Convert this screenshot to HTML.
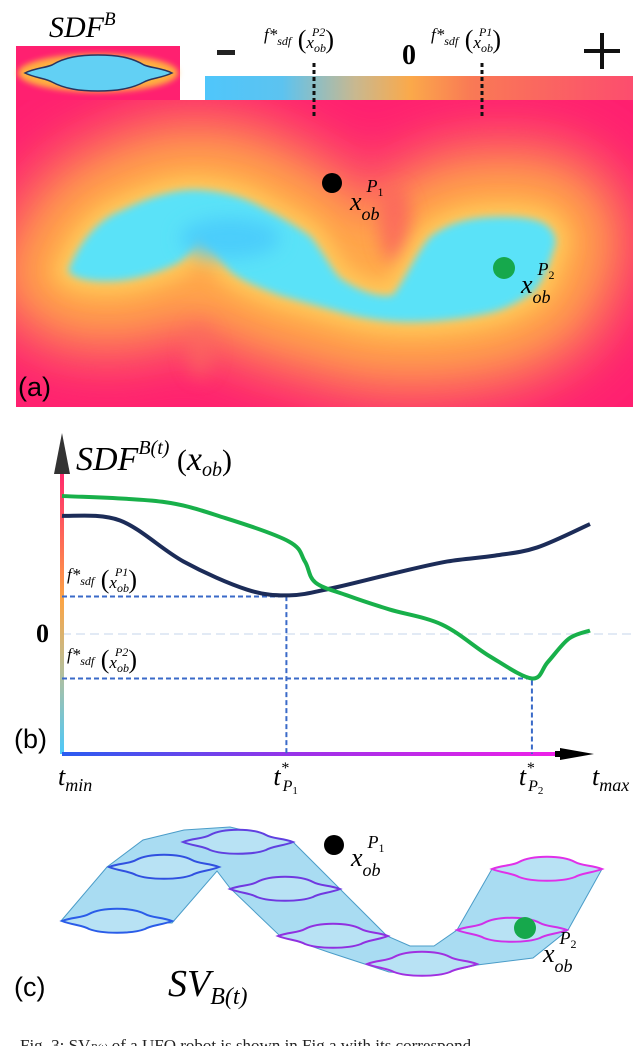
<!DOCTYPE html>
<html><head><meta charset="utf-8"><style>
body{margin:0;background:#fff;width:640px;height:1046px;overflow:hidden}
svg{display:block}
.m{font-family:"Liberation Serif",serif;font-style:italic}
</style></head><body>
<svg width="640" height="1046" viewBox="0 0 640 1046">
<defs>
<filter id="b30" filterUnits="userSpaceOnUse" x="-200" y="-200" width="1100" height="900"><feGaussianBlur stdDeviation="24"/></filter>
<filter id="b12" filterUnits="userSpaceOnUse" x="-200" y="-200" width="1100" height="900"><feGaussianBlur stdDeviation="9"/></filter>
<filter id="b5" filterUnits="userSpaceOnUse" x="-200" y="-200" width="1100" height="900"><feGaussianBlur stdDeviation="4"/></filter>
<filter id="b3" filterUnits="userSpaceOnUse" x="-200" y="-200" width="1100" height="900"><feGaussianBlur stdDeviation="3"/></filter>
<linearGradient id="cb" x1="0" x2="1"><stop offset="0" stop-color="#4fc6fb"/><stop offset="0.18" stop-color="#5cc3f0"/><stop offset="0.35" stop-color="#c8b890"/><stop offset="0.48" stop-color="#fba94a"/><stop offset="0.62" stop-color="#f97a55"/><stop offset="1" stop-color="#fc4d6e"/></linearGradient>
<linearGradient id="ya" x1="0" y1="1" x2="0" y2="0"><stop offset="0" stop-color="#4cc8fa"/><stop offset="0.3" stop-color="#b8bf98"/><stop offset="0.55" stop-color="#fca444"/><stop offset="1" stop-color="#ff2a6c"/></linearGradient>
<linearGradient id="xa" x1="0" x2="1"><stop offset="0" stop-color="#2a5cf0"/><stop offset="0.5" stop-color="#a030e8"/><stop offset="1" stop-color="#f020e8"/></linearGradient>
<clipPath id="clipA"><rect x="16" y="100" width="617" height="307"/></clipPath>
<path id="cyShape" d="M68,271 C80,240 100,218 123,210 C150,196 180,188 201,190 C230,192 250,200 266,210 C290,222 305,232 311,237 C325,255 332,270 340,278 C360,292 380,298 393,295 C405,280 415,255 430,237 C450,222 470,218 492,217 C515,216 535,218 545,224 C556,232 558,242 553,251 C548,270 540,285 533,292 C515,305 498,312 480,315 C455,320 430,322 410,322 C385,322 360,318 340,312 C315,305 295,300 279,295 C260,288 240,280 230,271 C220,260 210,245 201,237 C195,245 188,258 176,264 C160,272 135,280 115,281 C95,282 75,280 68,271 Z"/>
</defs>

<!-- Panel a -->
<g>
<rect x="16" y="46" width="164" height="54" fill="#ff2070"/>
<g filter="url(#b3)"><ellipse cx="98" cy="73" rx="80" ry="19" fill="#ffb040"/></g>
<path d="M25,73 C35,68 45,68 52,65 C65,57 80,55 98,55 C116,55 131,57 144,65 C151,68 162,68 172,73 C162,78 151,78 144,82 C131,89 116,91 98,91 C80,91 65,89 52,82 C45,78 35,78 25,73 Z" fill="#62d0f4" stroke="#2a3460" stroke-width="1.5"/>
<rect x="205" y="76" width="428" height="24" fill="url(#cb)"/>
<rect x="16" y="100" width="617" height="307" fill="#ff2070"/>
<g clip-path="url(#clipA)">
<use href="#cyShape" fill="#fb5a62" stroke="#fb5a62" stroke-width="190" filter="url(#b30)" opacity="0.75"/>
<use href="#cyShape" fill="#ffa848" stroke="#ffa848" stroke-width="115" filter="url(#b30)"/>
<ellipse cx="395" cy="225" rx="16" ry="38" fill="#fa5a62" filter="url(#b12)" opacity="0.7"/>
<ellipse cx="200" cy="350" rx="14" ry="28" fill="#fa6a5e" filter="url(#b12)" opacity="0.6"/>
<use href="#cyShape" fill="#ffc858" stroke="#ffc858" stroke-width="26" filter="url(#b12)"/>
<use href="#cyShape" fill="#5ae2f8" filter="url(#b5)"/>
<ellipse cx="230" cy="238" rx="50" ry="20" fill="#4ccdfb" filter="url(#b12)"/>
</g>
<line x1="314" y1="63" x2="314" y2="117" stroke="#111" stroke-width="3" stroke-dasharray="4,3"/>
<line x1="482" y1="63" x2="482" y2="117" stroke="#111" stroke-width="3" stroke-dasharray="4,3"/>
<circle cx="332" cy="183" r="10" fill="#000"/>
<circle cx="504" cy="268" r="11" fill="#16a84c"/>
<text x="350" y="210" class="m" font-size="26">x<tspan font-size="18" dy="10">ob</tspan><tspan font-size="18" dx="-13" dy="-28">P</tspan><tspan font-size="12" dy="4" font-style="normal">1</tspan></text>
<text x="521" y="293" class="m" font-size="26">x<tspan font-size="18" dy="10">ob</tspan><tspan font-size="18" dx="-13" dy="-28">P</tspan><tspan font-size="12" dy="4" font-style="normal">2</tspan></text>
<text x="49" y="37" class="m" font-size="30">SDF<tspan font-size="19" dy="-12">B</tspan></text>
<text x="264" y="40" class="m" font-size="17">f*<tspan font-size="12" dy="5">sdf</tspan><tspan font-size="26" dy="3" font-style="normal"> (</tspan>x<tspan font-size="12" dy="4">ob</tspan><tspan font-size="12" dx="-14" dy="-16">P2</tspan><tspan font-size="26" dy="12" font-style="normal">)</tspan></text>
<text x="431" y="40" class="m" font-size="17">f*<tspan font-size="12" dy="5">sdf</tspan><tspan font-size="26" dy="3" font-style="normal"> (</tspan>x<tspan font-size="12" dy="4">ob</tspan><tspan font-size="12" dx="-14" dy="-16">P1</tspan><tspan font-size="26" dy="12" font-style="normal">)</tspan></text>
<rect x="217" y="50" width="18" height="5" fill="#222"/>
<text x="402" y="64" font-family="Liberation Serif,serif" font-weight="bold" font-size="28">0</text>
<path d="M584,51 H620 M602,33 V69" stroke="#111" stroke-width="4"/>
<text x="18" y="396" font-family="Liberation Sans,sans-serif" font-size="27">(a)</text>
</g>

<!-- Panel b -->
<g id="chart">
<line x1="62" y1="634" x2="632" y2="634" stroke="#d8e4f2" stroke-width="1.5" stroke-dasharray="9,5"/>
<rect x="60" y="474" width="4" height="280" fill="url(#ya)"/>
<path d="M62,433 L54,474 L70,474 Z" fill="#333"/>
<rect x="62" y="752" width="500" height="4" fill="url(#xa)"/>
<path d="M560,748 L594,754 L560,760 Z" fill="#000"/>
<rect x="555" y="751" width="10" height="6" fill="#000"/>
<g id="guides"></g>
<g id="lines"></g>
<text x="76" y="470" class="m" font-size="34">SDF<tspan font-size="20" dy="-16">B(t)</tspan><tspan font-size="30" font-style="normal" dy="16"> (</tspan>x<tspan font-size="20" dy="6">ob</tspan><tspan font-size="30" font-style="normal" dy="-6">)</tspan></text>
<text x="36" y="642" font-family="Liberation Serif,serif" font-weight="bold" font-size="26">0</text>
<text x="67" y="580" class="m" font-size="17">f*<tspan font-size="12" dy="5">sdf</tspan><tspan font-size="26" dy="3" font-style="normal"> (</tspan>x<tspan font-size="12" dy="4">ob</tspan><tspan font-size="12" dx="-14" dy="-16">P1</tspan><tspan font-size="26" dy="12" font-style="normal">)</tspan></text>
<text x="67" y="660" class="m" font-size="17">f*<tspan font-size="12" dy="5">sdf</tspan><tspan font-size="26" dy="3" font-style="normal"> (</tspan>x<tspan font-size="12" dy="4">ob</tspan><tspan font-size="12" dx="-14" dy="-16">P2</tspan><tspan font-size="26" dy="12" font-style="normal">)</tspan></text>
<text x="14" y="748" font-family="Liberation Sans,sans-serif" font-size="27">(b)</text>
<g id="xticks"></g>
</g>

<!-- Panel c -->
<g>
<path d="M61,921 L107,867 L143,840 L184,830 L230,827 L293,842 L340,889 L387,936 L410,946 L434,946 L457,930 L492,869 L602,869 L568,930 L533,958 L477,965 L434,975 L389,972 L328,952 L279,935 L230,888 L217,871 L172,923 Z" fill="#a9dcf2" stroke="#4a9cc8" stroke-width="1"/>
<g id="ufos" fill="#b8e2f4" stroke-width="2"></g>
<circle cx="334" cy="845" r="10" fill="#000"/>
<circle cx="525" cy="928" r="11" fill="#16a84c"/>
<text x="351" y="866" class="m" font-size="26">x<tspan font-size="18" dy="10">ob</tspan><tspan font-size="18" dx="-13" dy="-28">P</tspan><tspan font-size="12" dy="4" font-style="normal">1</tspan></text>
<text x="543" y="962" class="m" font-size="26">x<tspan font-size="18" dy="10">ob</tspan><tspan font-size="18" dx="-13" dy="-28">P</tspan><tspan font-size="12" dy="4" font-style="normal">2</tspan></text>
<text x="14" y="996" font-family="Liberation Sans,sans-serif" font-size="27">(c)</text>
<text x="168" y="996" class="m" font-size="38">SV<tspan font-size="24" dy="8">B(t)</tspan></text>
</g>
<text x="20" y="1051" font-family="Liberation Serif,serif" font-size="17" fill="#222">Fig. 3: SV<tspan font-size="11" font-style="italic">B(t)</tspan> of a UFO robot is shown in Fig.a with its correspond</text>
</svg>
<script>
// chart data (panel b), t in [0,1], value relative to the zero line
const tNavy = [0.0, 0.11, 0.23, 0.35, 0.43, 0.51, 0.63, 0.73, 0.82, 0.90, 1.0];
const vNavy = [1.01, 0.97, 0.62, 0.38, 0.33, 0.39, 0.52, 0.62, 0.67, 0.74, 0.94];
const tGreen = [0.0, 0.19, 0.31, 0.43, 0.46, 0.48, 0.54, 0.62, 0.72, 0.81, 0.89, 0.92, 0.96, 1.0];
const vGreen = [1.18, 1.13, 0.99, 0.79, 0.62, 0.44, 0.33, 0.21, 0.08, -0.19, -0.38, -0.24, -0.04, 0.03];
const tStar = [0.425, 0.89];
const fStar = [0.32, -0.38];
const tickLabels = ["t_min", "t*_P1", "t*_P2", "t_max"];

const X0 = 62, X1 = 590, Ybase = 754;
function xs(t){ return X0 + t*(X1-X0); }
function ys(v){ return 634 - v*117; }
const NS = "http://www.w3.org/2000/svg";
function smooth(ts, vs){
  const p = ts.map((t,i)=>[xs(t), ys(vs[i])]);
  let d = "M"+p[0][0]+","+p[0][1];
  for(let i=0;i<p.length-1;i++){
    const p0=p[Math.max(0,i-1)], p1=p[i], p2=p[i+1], p3=p[Math.min(p.length-1,i+2)];
    const c1=[p1[0]+(p2[0]-p0[0])/6, p1[1]+(p2[1]-p0[1])/6];
    const c2=[p2[0]-(p3[0]-p1[0])/6, p2[1]-(p3[1]-p1[1])/6];
    d+=" C"+c1.join(",")+" "+c2.join(",")+" "+p2.join(",");
  }
  return d;
}
const guides = document.getElementById('guides');
for(let i=0;i<tStar.length;i++){
  const x = xs(tStar[i]), y = ys(fStar[i]);
  const g = document.createElementNS(NS,'path');
  g.setAttribute('d', `M${X0},${y} H${x} V${Ybase}`);
  g.setAttribute('fill','none'); g.setAttribute('stroke','#3a6ac8'); g.setAttribute('stroke-width','2'); g.setAttribute('stroke-dasharray','5,3');
  
  
  guides.appendChild(g);
}
const lines = document.getElementById('lines');
const ln = document.createElementNS(NS,'path');
ln.setAttribute('d', smooth(tNavy, vNavy));
ln.setAttribute('fill','none'); ln.setAttribute('stroke','#1c2c58'); ln.setAttribute('stroke-width','4');


lines.appendChild(ln);
const lg = document.createElementNS(NS,'path');
lg.setAttribute('d', smooth(tGreen, vGreen));
lg.setAttribute('fill','none'); lg.setAttribute('stroke','#18b04a'); lg.setAttribute('stroke-width','4');


lines.appendChild(lg);

const tickT = [0, tStar[0], tStar[1], 1.0];
const xt = document.getElementById('xticks');
tickLabels.forEach((lab,i)=>{
  const parts = lab.split('_');
  const tx = document.createElementNS(NS,'text');
  tx.setAttribute('x', xs(tickT[i]) - (i===0?4:(i===3?-2:13)));
  tx.setAttribute('y', 785);
  tx.setAttribute('class','m'); tx.setAttribute('font-size','26');
  
  
  if(parts[0]==='t*'){
    tx.innerHTML = 't<tspan font-size="16" dy="-12">*</tspan><tspan font-size="16" dx="-6" dy="18">'+parts[1].slice(0,1)+'</tspan><tspan font-size="11" dy="3" font-style="normal">'+parts[1].slice(1)+'</tspan>';
  } else {
    tx.innerHTML = 't<tspan font-size="18" dy="6">'+parts[1]+'</tspan>';
  }
  xt.appendChild(tx);
});

// UFO outlines in panel c
const ufoCx = [117,164,238,285,333,422,512,547];
const ufoCy = [921,867,842,889,936,964,930,869];
const ufoCol = ["#2a5ce8","#3050e0","#6040e0","#7038e0","#9030e0","#a030e0","#d030e8","#e030e8"];
const ug = document.getElementById('ufos');
for(let i=0;i<ufoCx.length;i++){
  const cx=ufoCx[i], cy=ufoCy[i];
  const p = document.createElementNS(NS,'path');
  p.setAttribute('d', `M${cx-55},${cy} C${cx-45},${cy-4} ${cx-35},${cy-3} ${cx-28},${cy-7} C${cx-15},${cy-14} ${cx+15},${cy-14} ${cx+28},${cy-7} C${cx+35},${cy-3} ${cx+45},${cy-4} ${cx+55},${cy} C${cx+45},${cy+4} ${cx+35},${cy+4} ${cx+28},${cy+8} C${cx+15},${cy+13} ${cx-15},${cy+13} ${cx-28},${cy+8} C${cx-35},${cy+4} ${cx-45},${cy+4} ${cx-55},${cy} Z`);
  p.setAttribute('stroke', ufoCol[i]);
  
  
  ug.appendChild(p);
}
</script>
</body></html>
